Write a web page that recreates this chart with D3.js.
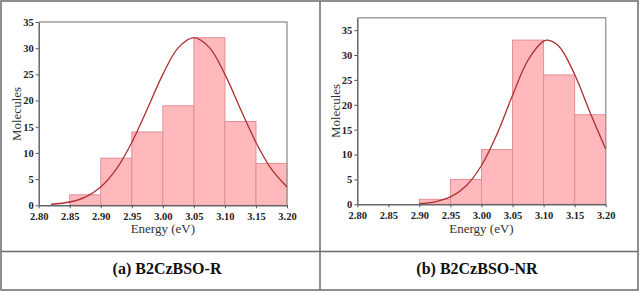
<!DOCTYPE html>
<html>
<head>
<meta charset="utf-8">
<title>Energy histograms</title>
<script src="https://cdn.jsdelivr.net/npm/d3@7"></script>
<style>
  body { margin: 0; background: #fff; }
  svg text { font-family: "Liberation Serif", "Times New Roman", serif !important; }
</style>
</head>
<body>
<script>
// bin edges (eV) shared by both panels
var binStarts = [2.85, 2.90, 2.95, 3.00, 3.05, 3.10, 3.15];
var binWidth = 0.05;
var xTicks = [2.80, 2.85, 2.90, 2.95, 3.00, 3.05, 3.10, 3.15, 3.20];
var yTicks = [0, 5, 10, 15, 20, 25, 30, 35];

// (a) B2CzBSO-R
var countsR = [2, 9, 14, 19, 32, 16, 8];
var fitXR = [2.82, 2.85, 2.875, 2.90, 2.925, 2.95, 2.975, 3.00, 3.025, 3.05, 3.075, 3.10, 3.125, 3.15, 3.175, 3.20];
var fitYR = [0.2, 0.63, 1.57, 3.5, 6.9, 12.0, 18.4, 25.0, 30.1, 32.0, 30.1, 25.0, 18.4, 12.0, 6.9, 3.5];

// (b) B2CzBSO-NR
var countsNR = [0, 1, 5, 11, 33, 26, 18];
var fitXNR = [2.90, 2.925, 2.95, 2.975, 3.00, 3.025, 3.05, 3.075, 3.10, 3.107, 3.125, 3.15, 3.175, 3.20];
var fitYNR = [0.15, 0.51, 1.48, 3.68, 7.8, 14.1, 21.9, 29.0, 32.8, 33.0, 31.7, 26.1, 18.4, 11.1];

var captions = ["(a) B2CzBSO-R", "(b) B2CzBSO-NR"];

var W = 640, H = 292;
var svg = d3.select("body").append("svg").attr("width", W).attr("height", H);

// table frame
var lineCol = "#6b6b6b";
svg.append("rect").attr("x", 1).attr("y", 1).attr("width", 637).attr("height", 289)
    .attr("fill", "none").attr("stroke", lineCol).attr("stroke-width", 1.5);
svg.append("line").attr("x1", 320).attr("x2", 320).attr("y1", 1).attr("y2", 290)
    .attr("stroke", lineCol).attr("stroke-width", 1.5);
svg.append("line").attr("x1", 1).attr("x2", 638).attr("y1", 251.5).attr("y2", 251.5)
    .attr("stroke", lineCol).attr("stroke-width", 1.5);

svg.selectAll("text.caption").data(captions).enter().append("text")
    .attr("class", "caption")
    .attr("x", function(d, i) { return i === 0 ? 167 : 477; })
    .attr("y", 274)
    .attr("text-anchor", "middle")
    .style("font-size", "16px").style("font-weight", "bold").attr("fill", "#111")
    .text(function(d) { return d; });

function drawPanel(cfg) {
    var x = d3.scaleLinear().domain([2.80, 3.20]).range([cfg.left, cfg.right]);
    var y = d3.scaleLinear().domain([0, cfg.ymax]).range([cfg.bottom, cfg.top]);
    var g = svg.append("g");

    // bars
    var bins = binStarts.map(function(s, i) { return { x0: s, v: cfg.counts[i] }; })
        .filter(function(d) { return d.v > 0; });
    g.selectAll("rect.bar").data(bins).enter().append("rect")
        .attr("class", "bar")
        .attr("x", function(d) { return x(d.x0); })
        .attr("y", function(d) { return y(d.v); })
        .attr("width", function(d) { return x(d.x0 + binWidth) - x(d.x0); })
        .attr("height", function(d) { return y(0) - y(d.v); })
        .attr("fill", "#ffb8bc").attr("stroke", "#df9096").attr("stroke-width", 1);

    // frame top/right
    g.append("path")
        .attr("d", "M" + cfg.left + "," + cfg.top + "H" + cfg.right + "V" + cfg.bottom)
        .attr("fill", "none").attr("stroke", "#a0a0a0").attr("stroke-width", 1.5);

    // fitted curve
    var pts = cfg.fx.map(function(v, i) { return [v, cfg.fy[i]]; });
    g.append("path").datum(pts)
        .attr("d", d3.line().x(function(d) { return x(d[0]); }).y(function(d) { return y(d[1]); })
            .curve(d3.curveCatmullRom))
        .attr("fill", "none").attr("stroke", "#ad2f2f").attr("stroke-width", 1.3);

    // axes
    var xa = g.append("g").attr("transform", "translate(0," + cfg.bottom + ")")
        .call(d3.axisBottom(x).tickValues(xTicks).tickFormat(d3.format(".2f")).tickSize(3).tickSizeOuter(0));
    var ya = g.append("g").attr("transform", "translate(" + cfg.left + ",0)")
        .call(d3.axisLeft(y).tickValues(yTicks).tickSize(3).tickSizeOuter(0));
    [xa, ya].forEach(function(a) {
        a.attr("font-family", null).attr("font-size", null);
        a.select(".domain").attr("stroke", "#666").attr("stroke-width", 1.5);
        a.selectAll(".tick line").attr("stroke", "#555");
        a.selectAll("text").style("font-weight", "bold").style("font-size", "10.5px").attr("fill", "#222");
    });
    xa.selectAll("text").attr("dy", "0.85em");
    ya.selectAll("text").attr("x", -5);

    g.append("text").attr("x", (cfg.left + cfg.right) / 2).attr("y", 233)
        .attr("text-anchor", "middle").style("font-size", "13px").attr("fill", "#333")
        .text("Energy (eV)");
    g.append("text")
        .attr("transform", "translate(" + cfg.ylabX + "," + cfg.ylabY + ") rotate(-90)")
        .attr("text-anchor", "middle").style("font-size", "13px").attr("fill", "#333")
        .text("Molecules");
}

drawPanel({ left: 38.7, right: 287, top: 22, bottom: 205.3, ymax: 35,
    counts: countsR, fx: fitXR, fy: fitYR, ylabX: 21, ylabY: 114 });
drawPanel({ left: 357.3, right: 605.7, top: 17.7, bottom: 204.3, ymax: 37.5,
    counts: countsNR, fx: fitXNR, fy: fitYNR, ylabX: 340, ylabY: 111 });
</script>
</body>
</html>
